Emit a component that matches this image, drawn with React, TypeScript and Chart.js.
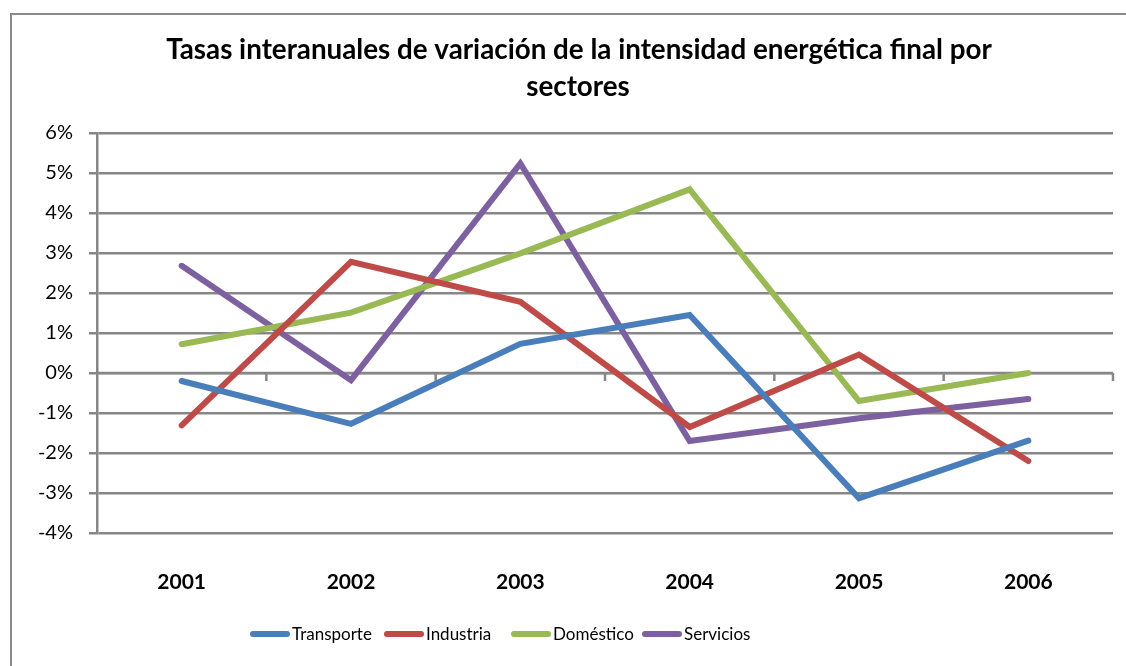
import React, { useEffect, useRef } from "react";
import { Chart, registerables } from "chart.js";

Chart.register(...registerables);

const years = ["2001", "2002", "2003", "2004", "2005", "2006"];
const transporte = [-0.2, -1.27, 0.73, 1.45, -3.13, -1.69];
const industria = [-1.31, 2.78, 1.78, -1.35, 0.46, -2.2];
const domestico = [0.72, 1.51, 2.99, 4.59, -0.7, 0.0];
const servicios = [2.68, -0.18, 5.24, -1.7, -1.13, -0.65];
const seriesNames = ["Transporte", "Industria", "Doméstico", "Servicios"];
const seriesColors = ["#4A7EBB", "#BE4B48", "#98B954", "#7D60A0"];
const titleLines = [
  "Tasas interanuales de variación de la intensidad energética final por",
  "sectores",
];
const yMin = -4;
const yMax = 6;

const FONT = "Lato, 'Open Sans', sans-serif";
const GRID = "#878787";

const frame = {
  id: "frame",
  beforeDraw(chart: any) {
    const ctx = chart.ctx;
    ctx.save();
    ctx.fillStyle = "#fff";
    ctx.fillRect(0, 0, chart.width, chart.height);
    ctx.strokeStyle = "#8a8a8a";
    ctx.lineWidth = 2;
    ctx.beginPath();
    ctx.moveTo(11, chart.height);
    ctx.lineTo(11, 14);
    ctx.lineTo(chart.width, 14);
    ctx.stroke();
    ctx.restore();
  },
};

const zeroTicks = {
  id: "zeroTicks",
  beforeDatasetsDraw(chart: any) {
    const x = chart.scales.x;
    const y = chart.scales.y;
    const ctx = chart.ctx;
    const y0 = y.getPixelForValue(0);
    ctx.save();
    ctx.strokeStyle = GRID;
    ctx.lineWidth = 2.5;
    ctx.beginPath();
    ctx.moveTo(x.left, y0);
    ctx.lineTo(x.right, y0);
    for (let i = 1; i <= years.length; i++) {
      const px = x.getPixelForDecimal(i / years.length);
      ctx.moveTo(px, y0);
      ctx.lineTo(px, y0 + 8);
    }
    ctx.stroke();
    ctx.restore();
  },
};

const titleAndLegend = {
  id: "titleAndLegend",
  afterDraw(chart: any) {
    const ctx = chart.ctx;
    ctx.save();
    // Title
    ctx.fillStyle = "#000";
    ctx.textAlign = "center";
    ctx.textBaseline = "alphabetic";
    let size = 26;
    ctx.font = `bold ${size}px ${FONT}`;
    const w = ctx.measureText(titleLines[0]).width;
    size = size * (826 / w);
    ctx.font = `bold ${size}px ${FONT}`;
    ctx.fillText(titleLines[0], 579, 59);
    ctx.fillText(titleLines[1], 578, 96);

    // Legend
    const starts = [250, 384, 511, 642];
    const ly = 634;
    ctx.font = `17px ${FONT}`;
    ctx.textAlign = "left";
    ctx.textBaseline = "middle";
    chart.data.datasets.forEach((ds: any, i: number) => {
      const sx = starts[i];
      ctx.strokeStyle = ds.borderColor;
      ctx.lineWidth = 6;
      ctx.lineCap = "round";
      ctx.beginPath();
      ctx.moveTo(sx + 3, ly);
      ctx.lineTo(sx + 37, ly);
      ctx.stroke();
      ctx.fillStyle = "#000";
      ctx.fillText(ds.label, sx + 42, ly + 1);
    });
    ctx.restore();
  },
};

export default function App() {
  const ref = useRef<HTMLCanvasElement | null>(null);

  useEffect(() => {
    if (!ref.current) return;
    const all = [transporte, industria, domestico, servicios];
    const chart = new Chart(ref.current, {
      type: "line",
      data: {
        labels: years,
        datasets: all.map((d, i) => ({
          label: seriesNames[i],
          data: d,
          borderColor: seriesColors[i],
          backgroundColor: seriesColors[i],
          borderWidth: 6,
          pointRadius: 0,
          pointHoverRadius: 0,
          tension: 0,
          borderCapStyle: "round" as const,
          borderJoinStyle: "miter" as const,
          fill: false,
        })),
      },
      options: {
        animation: false,
        responsive: false,
        devicePixelRatio: 1,
        layout: { padding: { top: 133, right: 13, left: 0, bottom: 0 } },
        plugins: {
          legend: { display: false },
          title: { display: false },
          tooltip: { enabled: false },
        },
        scales: {
          x: {
            type: "category",
            offset: true,
            grid: { display: false },
            border: { display: false },
            ticks: {
              color: "#000",
              padding: 29,
              maxRotation: 0,
              font: { family: FONT, size: 21, weight: "bold" },
            },
            afterFit: (s: any) => {
              s.height = 133;
            },
          },
          y: {
            min: yMin,
            max: yMax,
            ticks: {
              stepSize: 1,
              color: "#000",
              padding: 16,
              font: { family: FONT, size: 20 },
              callback: (v: any) => `${v}%`,
            },
            grid: { color: GRID, lineWidth: 2.5, tickLength: 8 },
            border: { color: GRID, width: 2.5 },
            afterFit: (s: any) => {
              s.width = 97;
            },
          },
        },
      },
      plugins: [frame, zeroTicks, titleAndLegend],
    });
    return () => chart.destroy();
  }, []);

  return (
    <div style={{ position: "fixed", left: 0, top: 0, width: 1126, height: 666, background: "#fff" }}>
      <canvas ref={ref} width={1126} height={666} style={{ display: "block" }} />
    </div>
  );
}
